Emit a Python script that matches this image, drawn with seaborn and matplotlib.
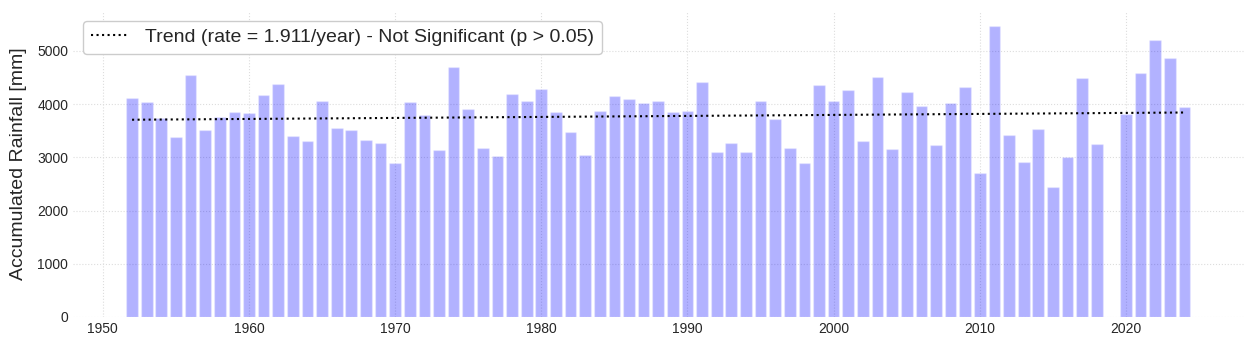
import numpy as np
import pandas as pd
import matplotlib
matplotlib.use("Agg")
import matplotlib.pyplot as plt
import seaborn as sns

years = [1952, 1953, 1954, 1955, 1956, 1957, 1958, 1959, 1960, 1961,
         1962, 1963, 1964, 1965, 1966, 1967, 1968, 1969, 1970, 1971,
         1972, 1973, 1974, 1975, 1976, 1977, 1978, 1979, 1980, 1981,
         1982, 1983, 1984, 1985, 1986, 1987, 1988, 1989, 1990, 1991,
         1992, 1993, 1994, 1995, 1996, 1997, 1998, 1999, 2000, 2001,
         2002, 2003, 2004, 2005, 2006, 2007, 2008, 2009, 2010, 2011,
         2012, 2013, 2014, 2015, 2016, 2017, 2018, 2020, 2021, 2022,
         2023, 2024]
rainfall = [4106, 4031, 3738, 3375, 4538, 3513, 3750, 3844, 3825, 4163,
            4369, 3406, 3300, 4050, 3544, 3513, 3325, 3263, 2888, 4031,
            3788, 3138, 4688, 3900, 3169, 3019, 4188, 4050, 4275, 3856,
            3469, 3038, 3863, 4144, 4088, 4016, 4063, 3844, 3863, 4406,
            3094, 3263, 3094, 4063, 3713, 3169, 2888, 4350, 4063, 4256,
            3300, 4500, 3150, 4219, 3972, 3225, 4013, 4313, 2700, 5475,
            3413, 2906, 3525, 2438, 3000, 4481, 3244, 3806, 4575, 5213,
            4875, 3938]
trend_label = "Trend (rate = 1.911/year) - Not Significant (p > 0.05)"
y_label = "Accumulated Rainfall [mm]"

df = pd.DataFrame({"year": years, "rain": rainfall})

sns.set_style("whitegrid", {"grid.linestyle": ":", "grid.color": "#dddddd"})
plt.rcParams["font.family"] = ["Liberation Sans", "DejaVu Sans"]

fig = plt.figure(figsize=(12.46, 3.49), dpi=100)
ax = fig.add_axes([73 / 1246, 1 - 317 / 349, (1243.5 - 73) / 1246, (317 - 11) / 349])

ax.bar(df["year"], df["rain"], width=0.8, color="blue", alpha=0.3,
       edgecolor="white", linewidth=1)

slope, intercept = np.polyfit(df["year"], df["rain"], 1)
xs = np.array([df["year"].min(), df["year"].max()])
sns.lineplot(x=xs, y=intercept + slope * xs, ax=ax, color="black",
             linestyle=":", linewidth=1.5, label=trend_label)

ax.set_xlim(1947.96, 2028.04)
ax.set_ylim(0, 5749)
ax.set_yticks([0, 1000, 2000, 3000, 4000, 5000])
ax.set_xticks([1950, 1960, 1970, 1980, 1990, 2000, 2010, 2020])
ax.tick_params(labelsize=10, length=0)
ax.set_ylabel(y_label, fontsize=14, labelpad=7)
ax.set_xlabel("")
for s in ax.spines.values():
    s.set_visible(False)
ax.grid(True, linestyle=":", color="#dddddd", linewidth=0.8)
ax.set_axisbelow(True)
ax.legend(loc="upper left", fontsize=14, frameon=True, fancybox=True,
          edgecolor="#cccccc", framealpha=1)

fig.savefig("out.png", dpi=100)
